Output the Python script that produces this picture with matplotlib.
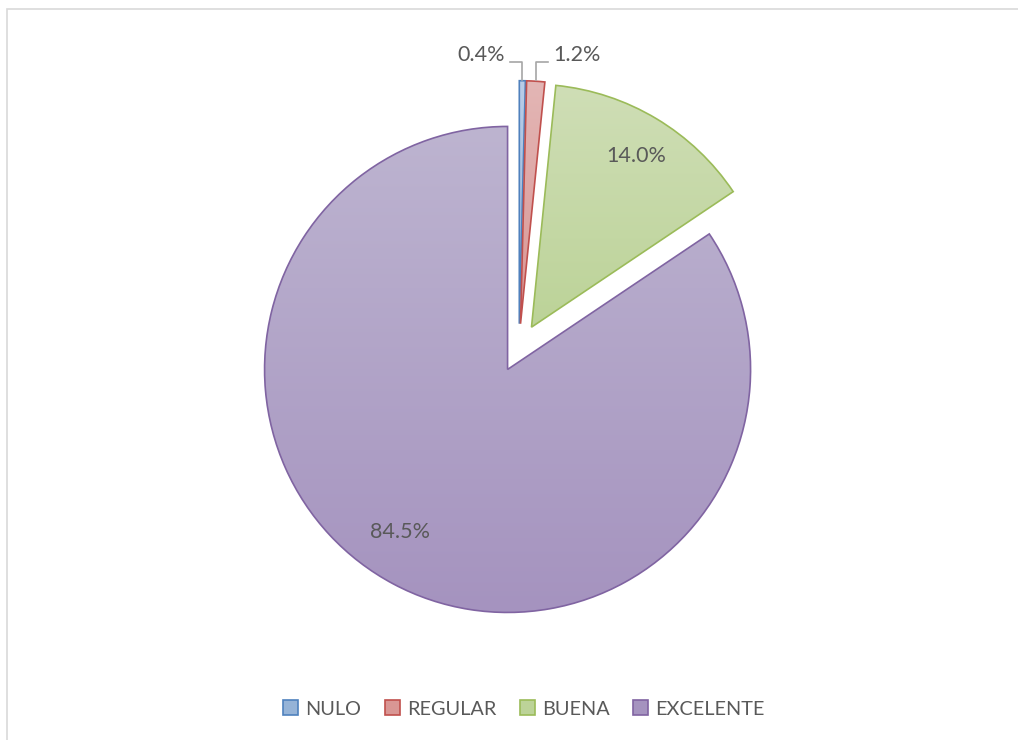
import numpy as np
import matplotlib
matplotlib.use("Agg")
import matplotlib.pyplot as plt
from matplotlib.colors import LinearSegmentedColormap
from matplotlib.patches import Rectangle

categories = ["NULO", "REGULAR", "BUENA", "EXCELENTE"]
values = [0.4, 1.2, 14.0, 84.5]
labels = ["0.4%", "1.2%", "14.0%", "84.5%"]

edge_colors = ["#4F81BD", "#C0504D", "#9BBB59", "#8064A2"]
top_colors = ["#B9CDE8", "#E3B6B5", "#CFDEB6", "#BDB4D0"]
bot_colors = ["#95B3D7", "#D99694", "#BCD398", "#A593BF"]

W, H = 1018, 740
R = 243.0
cx, cy = 519.0, 348.0

fig = plt.figure(figsize=(W / 100, H / 100), dpi=100)
ax = fig.add_axes([0, 0, 1, 1])
ax.set_xlim(-cx / R, (W - cx) / R)
ax.set_ylim(-(H - cy) / R, cy / R)
ax.set_aspect("equal")
ax.axis("off")

# chart border (light grey frame)
fig.patches.append(Rectangle((7 / W, -0.1), 1.2, 1 - 9 / H + 0.1, transform=fig.transFigure,
                             fill=False, edgecolor="#D9D9D9", linewidth=1.2))

wedges, _ = ax.pie(values, startangle=90, counterclock=False, radius=1.0,
                   center=(0, 0), explode=[0.1] * 4,
                   colors=[c for c in bot_colors],
                   wedgeprops=dict(linewidth=1.2))
for w, ec in zip(wedges, edge_colors):
    w.set_edgecolor(ec)
    w.set_zorder(3)

# legend
leg = ax.legend(wedges, categories, loc="center", bbox_to_anchor=(524 / W, 1 - 709 / H),
                bbox_transform=fig.transFigure, ncol=4, frameon=False,
                prop=dict(family="Lato", size=14.3), labelcolor="#595959",
                handlelength=0.75, handleheight=0.75, handletextpad=0.35,
                columnspacing=1.2)
for h in leg.legend_handles:
    h.set_linewidth(1.2)

# gradient fills clipped to wedges
for w, tc, bc in zip(wedges, top_colors, bot_colors):
    w.set_facecolor("none")
    ext = w.get_path().get_extents(w.get_patch_transform())
    cmap = LinearSegmentedColormap.from_list("g", [tc, bc])
    grad = np.linspace(0, 1, 256).reshape(-1, 1)
    im = ax.imshow(grad, cmap=cmap, aspect="auto",
                   extent=(ext.x0, ext.x1, ext.y0, ext.y1), origin="upper", zorder=2,
                   interpolation="bilinear")
    im.set_clip_path(w)

ax.set_xlim(-cx / R, (W - cx) / R)
ax.set_ylim(-(H - cy) / R, cy / R)

def px(x, y):
    return ((x - cx) / R, (cy - y) / R)

tkw = dict(family="Lato", size=15.5, color="#595959", ha="center", va="center", zorder=5)
ax.text(*px(481, 55), labels[0], **tkw)
ax.text(*px(577, 55), labels[1], **tkw)
ax.text(*px(636, 156), labels[2], **tkw)
ax.text(*px(400, 532), labels[3], **tkw)

# leader lines
lx, ly = zip(px(510, 62), px(522, 62), px(522, 80))
ax.plot(lx, ly, color="#A6A6A6", lw=1.2, zorder=5)
lx, ly = zip(px(548, 62), px(536, 62), px(536, 80))
ax.plot(lx, ly, color="#A6A6A6", lw=1.2, zorder=5)

fig.savefig("out.png", dpi=100, facecolor="white")
